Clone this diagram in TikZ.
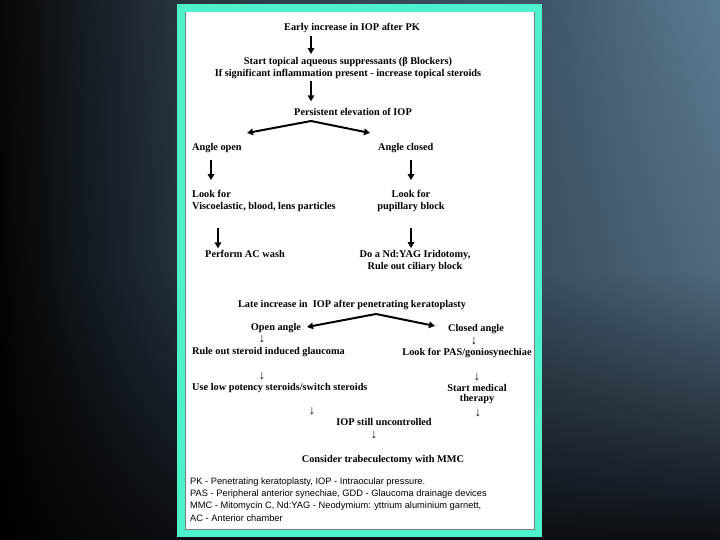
\documentclass[tikz,border=0pt]{standalone}
\usepackage{fontspec}
\setmainfont{Liberation Serif}
\newfontfamily\notefont{Liberation Sans}
\usetikzlibrary{arrows.meta, positioning, shadings}

\definecolor{framecyan}{HTML}{4DF2CC}
\definecolor{bgA}{HTML}{060708}
\definecolor{bgB}{HTML}{27343E}
\definecolor{bgC}{HTML}{3F566A}
\definecolor{bgD}{HTML}{5B7B92}
\definecolor{bgE}{HTML}{030405}
\definecolor{bgF}{HTML}{22303A}
\definecolor{bgG}{HTML}{3B5061}
\definecolor{bgH}{HTML}{50697E}
\definecolor{bgI}{HTML}{000000}
\definecolor{bgJ}{HTML}{0B0E12}

\begin{document}
\begin{tikzpicture}[
x=1pt, y=-1pt,
txt/.style={font=\bfseries\fontsize{10.3}{12}\selectfont, inner sep=1pt, text height=7pt, text depth=2pt},
ttxt/.style={font=\bfseries\fontsize{10.3}{12}\selectfont, inner sep=1pt, align=center},
ltxt/.style={font=\bfseries\fontsize{10.3}{12}\selectfont, inner sep=1pt, align=left},
down/.style={font=\fontsize{12.5}{12.5}\selectfont, inner sep=0pt},
note/.style={font=\notefont\fontsize{9.3}{12.3}\selectfont, inner sep=1pt, align=left},
line/.style={-{Triangle[length=6pt,width=6.5pt]}, line width=2pt},
fork/.style={{Triangle[length=6pt,width=6.5pt]}-{Triangle[length=6pt,width=6.5pt]}, line width=2pt, line join=miter}
]

% background and frame
\useasboundingbox (0,0) rectangle (720,540);
\shade[upper left=bgA, upper right=bgB, lower left=bgE, lower right=bgF] (0,0) rectangle (177,270);
\shade[upper left=bgE, upper right=bgF, lower left=bgI, lower right=bgJ] (0,270) rectangle (177,540);
\shade[upper left=bgB, upper right=bgC, lower left=bgF, lower right=bgG] (177,0) rectangle (542,270);
\shade[upper left=bgF, upper right=bgG, lower left=bgJ, lower right=bgJ] (177,270) rectangle (542,540);
\shade[upper left=bgC, upper right=bgD, lower left=bgG, lower right=bgH] (542,0) rectangle (720,270);
\shade[upper left=bgG, upper right=bgH, lower left=bgJ, lower right=bgJ] (542,270) rectangle (720,540);
\fill[framecyan] (177,4) rectangle (542,537);
\fill[white] (185,12) rectangle (535,530);
\draw[gray, line width=0.8pt] (185.5,12) -- (185.5,529.5) -- (534.5,529.5) -- (534.5,12);

% early rise
\coordinate (spine) at (311,0);
\coordinate (colL) at (211,0);
\coordinate (colL2) at (218,0);
\coordinate (colR) at (411,0);

\node[txt] (early) at (352,28) {Early increase in IOP after PK};
\node[ttxt] (topical) at (348,68) {Start topical aqueous suppressants (β Blockers)\\If significant inflammation present - increase topical steroids};
\node[txt] (persist) at (353,113) {Persistent elevation of IOP};
\coordinate (peakA) at (311,121);
\coordinate (tipAL) at (247,133);
\coordinate (tipAR) at (370,133);
\node[txt, anchor=west] (angopen) at (191,148) {Angle open};
\node[txt, anchor=west] (angclosed) at (377,148) {Angle closed};
\node[ltxt, anchor=west] (lookopen) at (191,201) {Look for\\Viscoelastic, blood, lens particles};
\node[ttxt] (lookclosed) at (411,201) {Look for\\pupillary block};
\node[txt] (acwash) at (245,255) {Perform AC wash};
\node[ttxt] (iridotomy) at (415,261) {Do a Nd:YAG Iridotomy,\\Rule out ciliary block};

\draw[line, shorten <=2pt, shorten >=2pt] (early.south -| spine) -- (topical.north -| spine);
\draw[line, shorten <=1pt, shorten >=6pt] (topical.south -| spine) -- (persist.north -| spine);
\draw[fork] (tipAL) -- (peakA) -- (tipAR);
\draw[line, shorten <=6pt, shorten >=9pt] (angopen.south -| colL) -- (lookopen.north -| colL);
\draw[line, shorten <=6pt, shorten >=9pt] (angclosed.south -| colR) -- (lookclosed.north -| colR);
\draw[line, shorten <=15pt, shorten >=1pt] (lookopen.south -| colL2) -- (acwash.north -| colL2);
\draw[line, shorten <=15pt, shorten >=1pt] (lookclosed.south -| colR) -- (iridotomy.north -| colR);

% late rise
\node[txt] (late) at (352,305) {Late increase in\ \ IOP after penetrating keratoplasty};
\coordinate (peakB) at (376,314);
\coordinate (tipBL) at (307,327);
\coordinate (tipBR) at (435,326);
\draw[fork] (tipBL) -- (peakB) -- (tipBR);
\node[txt] (openang) at (276,328) {Open angle};
\node[txt] (closedang) at (476,329) {Closed angle};
\node[down] (d1) at (262,339) {↓};
\node[down] (d2) at (474,341) {↓};
\node[txt, anchor=west] (steroid) at (191,352) {Rule out steroid induced glaucoma};
\node[txt] (pas) at (467,353) {Look for PAS/goniosynechiae};
\node[down] (d3) at (262,376) {↓};
\node[down] (d4) at (477,377) {↓};
\node[txt, anchor=west] (lowpot) at (191,388) {Use low potency steroids/switch steroids};
\node[ttxt] (medical) at (477,394) {Start medical\\[-2pt]therapy};
\node[down] (d5) at (312,411) {↓};
\node[down] (d6) at (478,413) {↓};
\node[txt] (uncontrolled) at (384,423) {IOP still uncontrolled};
\node[down] (d7) at (374,435) {↓};
\node[txt] (trab) at (383,460) {Consider trabeculectomy with MMC};

% abbreviations
\node[note, anchor=west] (legend) at (189,499.5) {PK - Penetrating keratoplasty, IOP - Intraocular pressure.\\PAS - Peripheral anterior synechiae, GDD - Glaucoma drainage devices\\MMC - Mitomycin C, Nd:YAG - Neodymium: yttrium aluminium garnett,\\AC - Anterior chamber};

\end{tikzpicture}
\end{document}
